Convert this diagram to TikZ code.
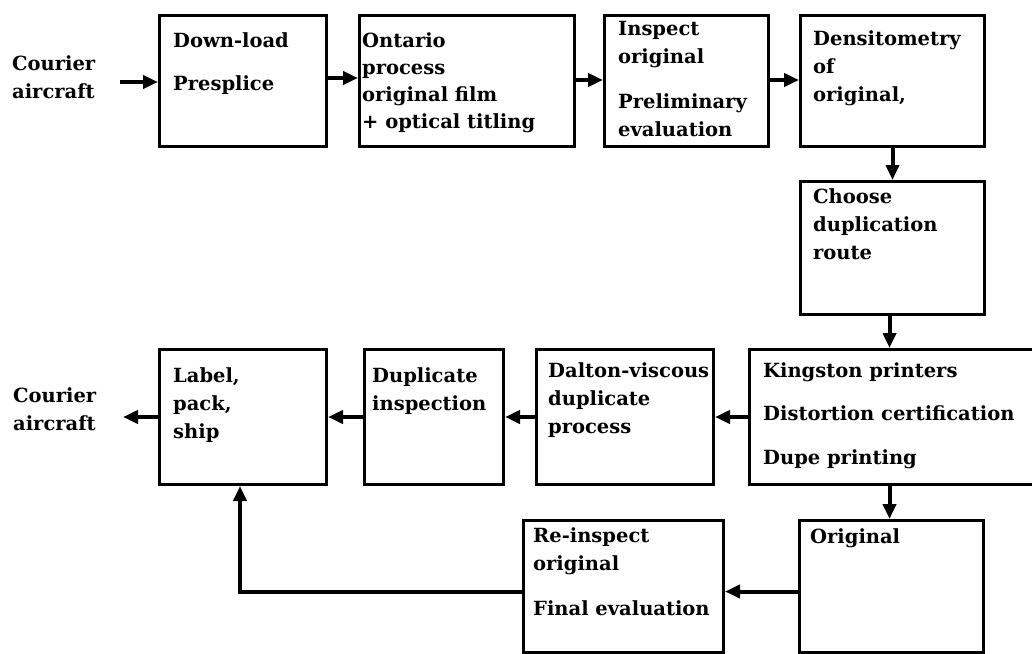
\documentclass[tikz,border=0pt]{standalone}
\usepackage{fontspec}
\setmainfont{DejaVu Serif}
\usetikzlibrary{arrows.meta}
\tikzset{
  box/.style={draw, line width=3pt, anchor=north west, inner sep=0pt, minimum width=#1},
  txt/.style={anchor=base west, inner sep=0pt, font=\bfseries\fontsize{19.5}{28}\selectfont},
  arr/.style={line width=4pt, -{Triangle[length=15pt,width=13pt]}},
}
\newcommand{\tl}[1]{\begin{tabular}[t]{@{}l@{}}#1\end{tabular}}
\begin{document}
\begin{tikzpicture}[x=1pt,y=-1pt]
\useasboundingbox (0,0) rectangle (1032,653);
% boxes
\node[box=167pt, minimum height=131pt] (b1) at (158,14) {};
\node[box=215pt, minimum height=131pt] (b2) at (358,14) {};
\node[box=164pt, minimum height=131pt] (b3) at (603,14) {};
\node[box=184pt, minimum height=131pt] (b4) at (799,14) {};
\node[box=184pt, minimum height=133pt] (b5) at (799,180) {};
\node[box=300pt, minimum height=135pt] (kp) at (748,348) {};
\node[box=177pt, minimum height=135pt] (dv) at (535,348) {};
\node[box=139pt, minimum height=135pt] (di) at (363,348) {};
\node[box=167pt, minimum height=135pt] (lp) at (158,348) {};
\node[box=184pt, minimum height=132pt] (og) at (798,519) {};
\node[box=200pt, minimum height=132pt] (ri) at (522,519) {};
% texts
\node[txt] (c1) at (12,70) {\tl{Courier\\aircraft}};
\node[txt] (c2) at (13,402) {\tl{Courier\\aircraft}};
\node[txt] (t1) at (173,47) {\tl{Down-load\\[15pt]Presplice}};
\node[txt] (t2) at (362,47) {\tl{Ontario\\[-1pt]process\\[-1pt]original film\\[-1pt]+ optical titling}};
\node[txt] (t3) at (618,35) {\tl{Inspect\\original\\[17pt]Preliminary\\evaluation}};
\node[txt] (t4) at (813,45) {\tl{Densitometry\\of\\original,}};
\node[txt] (t5) at (813,203) {\tl{Choose\\duplication\\route}};
\node[txt] (t6) at (763,377) {\tl{Kingston printers\\[15pt]Distortion certification\\[16pt]Dupe printing}};
\node[txt] (t7) at (548,377) {\tl{Dalton-viscous\\duplicate\\process}};
\node[txt] (t8) at (372,382) {\tl{Duplicate\\inspection}};
\node[txt] (t9) at (173,382) {\tl{Label,\\pack,\\ship}};
\node[txt] (t10) at (810,543) {Original};
\node[txt] (t11) at (533,542) {\tl{Re-inspect\\original\\[17pt]Final evaluation}};
% connectors
\coordinate (cin) at (120,82);
\coordinate (cout) at (123,415);
\draw[arr] (cin) -- (cin -| b1.west);
\draw[arr] ([yshift=3pt]b1.east) -- ([yshift=3pt]b1.east -| b2.west);
\draw[arr] ([yshift=1pt]b2.east) -- ([yshift=1pt]b2.east -| b3.west);
\draw[arr] ([yshift=1pt]b3.east) -- ([yshift=1pt]b3.east -| b4.west);
\draw[arr] (b4.south) -- (b5.north);
\draw[arr] ([xshift=-3pt]b5.south) -- ([xshift=-3pt]b5.south |- kp.north);
\draw[arr] (kp.west) -- (kp.west -| dv.east);
\draw[arr] (dv.west) -- (dv.west -| di.east);
\draw[arr] (di.west) -- (di.west -| lp.east);
\draw[arr] (lp.west) -- (lp.west -| cout);
\draw[arr] ([xshift=-3pt]b5.south |- kp.south) -- ([xshift=-3pt]b5.south |- og.north);
\draw[arr] ([yshift=-5pt]og.west) -- ([yshift=-5pt]og.west -| ri.east);
\draw[arr] ([yshift=-5pt]ri.west) -| ([xshift=-3pt]lp.south);
\end{tikzpicture}
\end{document}
